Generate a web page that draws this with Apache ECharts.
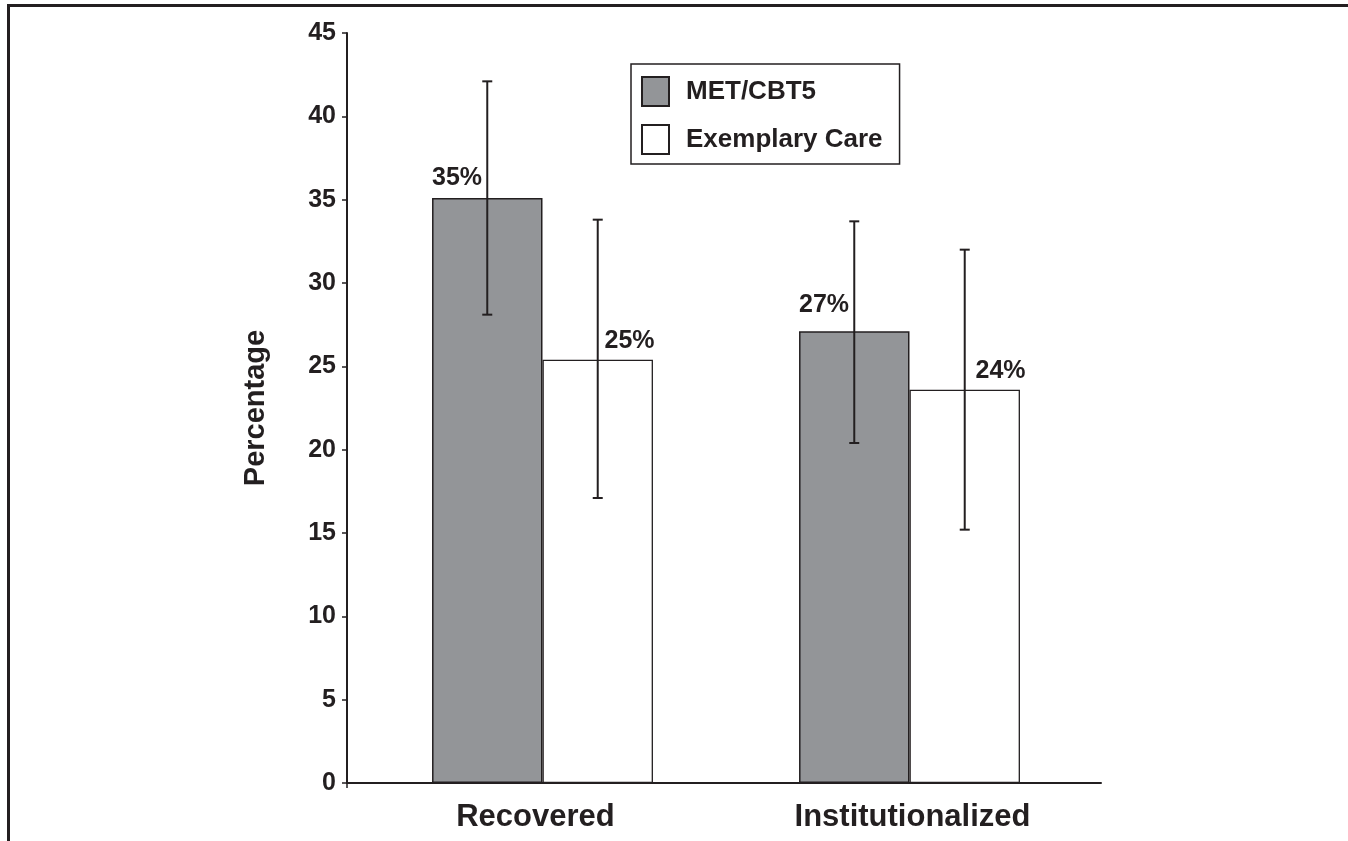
<!DOCTYPE html>
<html>
<head>
<meta charset="utf-8">
<script src="https://cdn.jsdelivr.net/npm/echarts@6/dist/echarts.min.js"></script>
<style>
	html, body { margin: 0; padding: 0; background: #fff; }
	#chart { width: 1348px; height: 841px; }
</style>
</head>
<body>
<div id="chart"></div>
<script>
'use strict';

var categories = ['Recovered', 'Institutionalized'];
var seriesNames = ['MET/CBT5', 'Exemplary Care'];
var metValues = [35.1, 27.1];
var careValues = [25.4, 23.6];
// error bar ends (low, high)
var metLow = [28.1, 20.4];
var metHigh = [42.1, 33.7];
var careLow = [17.1, 15.2];
var careHigh = [33.8, 32.0];
var yTicks = { min: 0, max: 45, interval: 5 };

var ink = '#231f20';
var gray = '#939598';
var font = '"Liberation Sans", Arial, Helvetica, sans-serif';
var gapRatio = 0.398;

var myChart = echarts.init(document.getElementById('chart'), null, { renderer: 'canvas' });

function pctLabel(p) {
	return Math.round(p.value) + '%';
}

// where each value label sits, relative to its bar
var metLabelPos = [[0, -20], [0, -26]];
var careLabelPos = [[62, -19], [66, -19]];

function barData(values, positions) {
	var out = [];
	for (var i = 0; i < values.length; i++) {
		out.push({ value: values[i], label: { position: positions[i] } });
	}
	return out;
}

function errData(low, high) {
	var out = [];
	for (var i = 0; i < low.length; i++) {
		out.push([i, low[i], high[i]]);
	}
	return out;
}

function errRender(side) {
	return function (params, api) {
		var xi = api.value(0);
		var lo = api.coord([xi, api.value(1)]);
		var hi = api.coord([xi, api.value(2)]);
		var band = api.size([1, 0])[0];
		var bw = band * (1 - gapRatio) / 2;
		var x = lo[0] + side * bw / 2;
		var cap = 5;
		var st = { stroke: ink, lineWidth: 2 };
		return {
			type: 'group',
			children: [
				{ type: 'line', shape: { x1: x, y1: hi[1], x2: x, y2: lo[1] }, style: st },
				{ type: 'line', shape: { x1: x - cap, y1: hi[1], x2: x + cap, y2: hi[1] }, style: st },
				{ type: 'line', shape: { x1: x - cap, y1: lo[1], x2: x + cap, y2: lo[1] }, style: st }
			]
		};
	};
}

var valueLabel = {
	show: true,
	formatter: pctLabel,
	align: 'left',
	verticalAlign: 'middle',
	color: ink,
	fontFamily: font,
	fontWeight: 'bold',
	fontSize: 25
};

var option = {
	animation: false,
	backgroundColor: '#fff',
	textStyle: { fontFamily: font },
	// grid 0 carries the drawn axes, grid 1 (same height) places the bar groups
	grid: [
		{ left: 347, right: 247, top: 33, bottom: 58 },
		{ left: 359, right: 255, top: 33, bottom: 58 }
	],
	legend: {
		data: seriesNames,
		orient: 'vertical',
		left: 631,
		top: 64,
		padding: [12, 17, 9, 10],
		itemGap: 17,
		itemWidth: 27,
		itemHeight: 29,
		icon: 'rect',
		borderColor: ink,
		borderWidth: 1.5,
		backgroundColor: '#fff',
		selectedMode: false,
		textStyle: { color: ink, fontSize: 26, fontWeight: 'bold', fontFamily: font, padding: [0, 0, 0, 12] }
	},
	xAxis: [{
		type: 'category',
		gridIndex: 0,
		data: categories,
		axisLine: { lineStyle: { color: ink, width: 2 } },
		axisTick: { show: false },
		axisLabel: { color: ink, fontSize: 31, fontWeight: 'bold', fontFamily: font, margin: 19 },
		splitLine: { show: false }
	}, {
		type: 'category',
		gridIndex: 1,
		data: categories,
		show: false
	}],
	yAxis: [{
		type: 'value',
		gridIndex: 0,
		min: yTicks.min,
		max: yTicks.max,
		interval: yTicks.interval,
		name: 'Percentage',
		nameLocation: 'middle',
		nameRotate: 90,
		nameGap: 77,
		nameTextStyle: { color: ink, fontSize: 29, fontWeight: 'bold', fontFamily: font },
		axisLine: { show: true, lineStyle: { color: ink, width: 2 } },
		axisTick: { show: true, inside: false, length: 5, lineStyle: { color: ink, width: 1.5 } },
		axisLabel: { color: ink, fontSize: 25, fontWeight: 'bold', fontFamily: font, margin: 11 },
		splitLine: { show: false }
	}, {
		type: 'value',
		gridIndex: 1,
		min: yTicks.min,
		max: yTicks.max,
		interval: yTicks.interval,
		show: false
	}],
	graphic: [
		{ type: 'line', shape: { x1: 7, y1: 5.5, x2: 1348, y2: 5.5 }, style: { stroke: ink, lineWidth: 3 }, silent: true },
		{ type: 'line', shape: { x1: 8.5, y1: 4, x2: 8.5, y2: 841 }, style: { stroke: ink, lineWidth: 3 }, silent: true },
		// short stub of the value axis below zero
		{ type: 'line', shape: { x1: 347, y1: 782, x2: 347, y2: 788 }, style: { stroke: ink, lineWidth: 1.5 }, silent: true }
	],
	series: [{
		name: seriesNames[0],
		type: 'bar',
		xAxisIndex: 1,
		yAxisIndex: 1,
		barGap: '0%',
		barCategoryGap: (gapRatio * 100) + '%',
		itemStyle: { color: gray, borderColor: ink, borderWidth: 1.5 },
		label: valueLabel,
		data: barData(metValues, metLabelPos)
	}, {
		name: seriesNames[1],
		type: 'bar',
		xAxisIndex: 1,
		yAxisIndex: 1,
		itemStyle: { color: '#fff', borderColor: ink, borderWidth: 1.3 },
		label: valueLabel,
		data: barData(careValues, careLabelPos)
	}, {
		name: 'met-err',
		type: 'custom',
		xAxisIndex: 1,
		yAxisIndex: 1,
		renderItem: errRender(-1),
		z: 10,
		data: errData(metLow, metHigh)
	}, {
		name: 'care-err',
		type: 'custom',
		xAxisIndex: 1,
		yAxisIndex: 1,
		renderItem: errRender(1),
		z: 10,
		data: errData(careLow, careHigh)
	}]
};

myChart.setOption(option);
</script>
</body>
</html>
